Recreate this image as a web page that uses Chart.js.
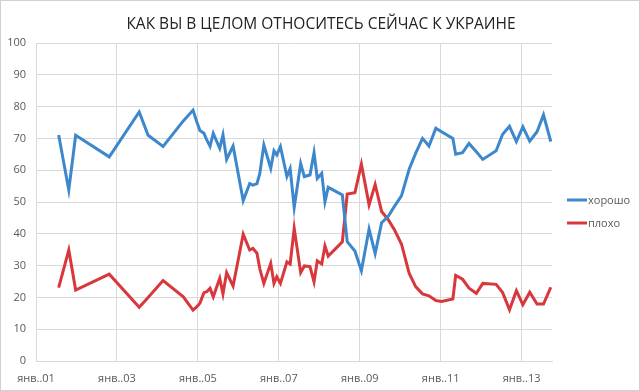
<!DOCTYPE html>
<html>
<head>
<meta charset="utf-8">
<script src="https://cdn.jsdelivr.net/npm/chart.js@4/dist/chart.umd.min.js"></script>
<style>
  body { margin: 0; background: #fff; }
  canvas { display: block; }
</style>
</head>
<body>
<canvas id="chart" width="640" height="391"></canvas>
<script>
// survey dates as decimal years
const years = [
  2001.56, 2001.81, 2001.98, 2002.81, 2003.55, 2003.77, 2004.14, 2004.64, 2004.88, 2004.97,
  2005.05, 2005.15, 2005.22, 2005.30, 2005.38, 2005.54, 2005.62, 2005.71, 2005.87, 2006.12,
  2006.28, 2006.36, 2006.46, 2006.53, 2006.63, 2006.80, 2006.88, 2006.95, 2007.04, 2007.20,
  2007.28, 2007.38, 2007.54, 2007.63, 2007.77, 2007.87, 2007.95, 2008.06, 2008.14, 2008.22,
  2008.57, 2008.69, 2008.88, 2009.04, 2009.23, 2009.38, 2009.54, 2009.70, 2009.86, 2010.03,
  2010.22, 2010.38, 2010.55, 2010.71, 2010.88, 2011.02, 2011.30, 2011.37, 2011.54, 2011.70,
  2011.88, 2012.04, 2012.37, 2012.53, 2012.70, 2012.87, 2013.03, 2013.20, 2013.38, 2013.54,
  2013.72
];

const good = [
  71.1, 53.8, 71.0, 64.2, 78.3, 71.0, 67.5, 75.5, 78.9, 75.3,
  72.5, 71.6, 69.5, 67.5, 71.6, 66.9, 71.1, 63.4, 67.6, 50.4,
  55.8, 55.3, 55.8, 59.0, 67.9, 60.6, 66.1, 64.8, 67.4, 58.0,
  60.5, 48.3, 62.1, 58.0, 58.5, 65.5, 57.4, 59.0, 50.1, 54.6,
  52.2, 37.5, 34.6, 28.4, 41.5, 33.8, 43.5, 45.4, 48.7, 51.9,
  60.3, 65.3, 70.0, 67.6, 73.2, 72.1, 70.0, 65.0, 65.5, 68.4,
  65.8, 63.4, 66.1, 71.3, 73.8, 69.0, 73.6, 69.1, 72.1, 77.4,
  69.0
];

const bad = [
  23.1, 34.9, 22.3, 27.3, 16.9, 20.0, 25.3, 20.2, 16.0, 17.0,
  18.2, 21.5, 21.8, 22.9, 20.2, 26.0, 21.1, 27.8, 23.6, 39.9,
  34.9, 35.4, 33.9, 29.0, 24.4, 30.7, 24.4, 26.5, 24.4, 31.2,
  30.5, 41.7, 27.8, 29.9, 29.7, 24.9, 31.5, 30.5, 36.2, 33.0,
  37.5, 52.5, 52.9, 61.9, 49.1, 55.5, 47.0, 44.5, 41.2, 36.8,
  27.6, 23.4, 21.1, 20.5, 19.0, 18.7, 19.5, 26.9, 25.7, 22.9,
  21.3, 24.4, 24.1, 21.5, 16.1, 22.1, 17.7, 21.6, 17.9, 17.9,
  23.2
];

const seriesNames = ['хорошо', 'плохо'];
const tickYears = [2001, 2003, 2005, 2007, 2009, 2011, 2013];
const titleText = 'КАК ВЫ В ЦЕЛОМ ОТНОСИТЕСЬ СЕЙЧАС К УКРАИНЕ';

const BLUE = '#3d87cd';
const RED = '#d8373c';
const GRID = '#d9d9d9';
const TEXT = '#595959';
const FONT = "'Open Sans', sans-serif";

// title across the whole chart, legend on the right, thin frame
const extras = {
  id: 'extras',
  afterDraw(chart) {
    const ctx = chart.ctx;
    ctx.save();
    ctx.strokeStyle = '#d0d0d0';
    ctx.lineWidth = 1;
    ctx.strokeRect(0.5, 0.5, chart.width - 1, chart.height - 1);

    ctx.font = '15.5px ' + FONT;
    ctx.fillStyle = '#222';
    ctx.textAlign = 'center';
    ctx.textBaseline = 'middle';
    ctx.fillText(titleText, 321, 25);

    ctx.font = '11px ' + FONT;
    ctx.fillStyle = TEXT;
    ctx.textAlign = 'left';
    chart.data.datasets.forEach((ds, i) => {
      const y = 200 + i * 23;
      ctx.strokeStyle = ds.borderColor;
      ctx.lineWidth = 3;
      ctx.beginPath();
      ctx.moveTo(567, y);
      ctx.lineTo(587, y);
      ctx.stroke();
      ctx.fillText(ds.label, 588, y + 1);
    });
    ctx.restore();
  }
};

new Chart(document.getElementById('chart'), {
  type: 'line',
  data: {
    datasets: [
      {
        label: seriesNames[0],
        data: years.map((x, i) => ({ x: x, y: good[i] })),
        borderColor: BLUE,
        backgroundColor: BLUE
      },
      {
        label: seriesNames[1],
        data: years.map((x, i) => ({ x: x, y: bad[i] })),
        borderColor: RED,
        backgroundColor: RED
      }
    ]
  },
  options: {
    responsive: false,
    animation: false,
    layout: { padding: { left: 0, right: 88, top: 43, bottom: 0 } },
    elements: {
      line: { borderWidth: 3, tension: 0 },
      point: { radius: 0 }
    },
    plugins: {
      legend: { display: false },
      tooltip: { enabled: false },
      title: { display: false }
    },
    scales: {
      x: {
        type: 'linear',
        min: 2001,
        max: 2013.75,
        afterBuildTicks: s => { s.ticks = tickYears.map(v => ({ value: v })); },
        afterFit: s => { s.height = 30; },
        grid: { color: GRID, drawTicks: false },
        border: { color: GRID },
        ticks: {
          color: TEXT,
          font: { family: FONT, size: 11 },
          padding: 11,
          maxRotation: 0,
          autoSkip: false,
          callback: v => 'янв..' + String(v).slice(2)
        }
      },
      y: {
        min: 0,
        max: 100,
        afterFit: s => { s.width = 36; },
        grid: { color: GRID, drawTicks: false },
        border: { color: GRID },
        ticks: {
          stepSize: 10,
          color: TEXT,
          font: { family: FONT, size: 11 },
          padding: 10
        }
      }
    }
  },
  plugins: [extras]
});
</script>
</body>
</html>
